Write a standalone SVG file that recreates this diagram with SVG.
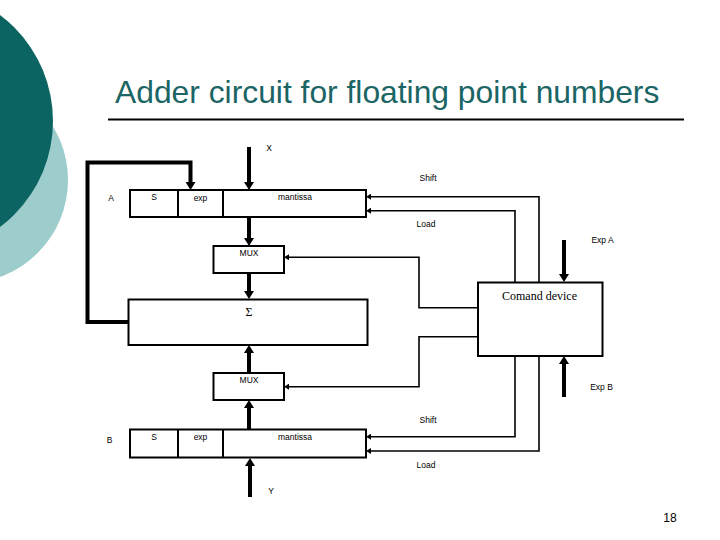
<svg xmlns="http://www.w3.org/2000/svg" width="720" height="540" viewBox="0 0 720 540">
<style>
.box{fill:#fff;stroke:#000;stroke-width:2}
.div{stroke:#000;stroke-width:2}
.thick{fill:none;stroke:#000;stroke-width:4;stroke-linejoin:miter}
.thin{fill:none;stroke:#000;stroke-width:1.6}
.lbl{font-family:"Liberation Sans",Arial,sans-serif;font-size:8.5px;fill:#000}
.mid{text-anchor:middle}
.serif{font-family:"Liberation Serif","Times New Roman",serif;font-size:12px;fill:#000}
.title{font-family:"Liberation Sans",Arial,sans-serif;font-size:31.8px;fill:#1b6565}
</style>
<defs>
<marker id="ah" markerUnits="userSpaceOnUse" viewBox="0 0 8 10" refX="0" refY="5" markerWidth="8" markerHeight="10" orient="auto">
<path d="M0,0 L8,5 L0,10 z" fill="#000"/>
</marker>
<marker id="as" markerUnits="userSpaceOnUse" viewBox="0 0 5 6" refX="0" refY="3" markerWidth="5" markerHeight="6" orient="auto">
<path d="M0,0 L5,3 L0,6 z" fill="#000"/>
</marker>
</defs>
<rect width="720" height="540" fill="#fff"/>
<g id="decor">
<circle cx="-35" cy="180" r="103" fill="#9ccccc"/>
<circle cx="-79.5" cy="121" r="132.5" fill="#0b6462"/>
</g>
<g id="title">
<text class="title" x="115" y="103">Adder circuit for floating point numbers</text>
<line x1="108" y1="119.5" x2="684" y2="119.5" stroke="#000" stroke-width="2"/>
</g>
<g id="connectors">
<path class="thick" d="M128,322 H87.5 V162.5 H190.5 V182" marker-end="url(#ah)"/>
<line class="thick" x1="249" y1="147" x2="249" y2="182" marker-end="url(#ah)"/>
<line class="thick" x1="249" y1="217" x2="249" y2="238" marker-end="url(#ah)"/>
<line class="thick" x1="249" y1="273" x2="249" y2="291" marker-end="url(#ah)"/>
<line class="thick" x1="249" y1="373" x2="249" y2="353" marker-end="url(#ah)"/>
<line class="thick" x1="249" y1="429" x2="249" y2="408" marker-end="url(#ah)"/>
<line class="thick" x1="250" y1="497" x2="250" y2="466" marker-end="url(#ah)"/>
<line class="thick" x1="564" y1="240" x2="564" y2="274" marker-end="url(#ah)"/>
<line class="thick" x1="564" y1="397" x2="564" y2="364" marker-end="url(#ah)"/>
<path class="thin" d="M539,282 V196.7 H371" marker-end="url(#as)"/>
<path class="thin" d="M515,282 V210.7 H371" marker-end="url(#as)"/>
<path class="thin" d="M515,356 V436.7 H371" marker-end="url(#as)"/>
<path class="thin" d="M539,356 V451 H371" marker-end="url(#as)"/>
<path class="thin" d="M478,307.7 H419 V257.3 H289" marker-end="url(#as)"/>
<path class="thin" d="M478,336.7 H419 V386.7 H289" marker-end="url(#as)"/>
</g>
<g id="regA">
<rect class="box" x="130" y="190" width="236" height="27"/>
<line class="div" x1="178" y1="190" x2="178" y2="217"/>
<line class="div" x1="223" y1="190" x2="223" y2="217"/>
<text class="lbl mid" x="154" y="200">S</text>
<text class="lbl mid" x="200.5" y="200.5">exp</text>
<text class="lbl mid" x="295" y="200">mantissa</text>
</g>
<g id="mux1">
<rect class="box" x="213.5" y="246" width="70.5" height="27"/>
<text class="lbl mid" x="249" y="255.5">MUX</text>
</g>
<g id="sum">
<rect class="box" x="128.5" y="299.5" width="239" height="45.5"/>
<text class="serif mid" x="249" y="316">Σ</text>
</g>
<g id="mux2">
<rect class="box" x="213.5" y="373" width="70.5" height="27"/>
<text class="lbl mid" x="249" y="382.5">MUX</text>
</g>
<g id="regB">
<rect class="box" x="130" y="429.5" width="236" height="28"/>
<line class="div" x1="178" y1="429.5" x2="178" y2="457.5"/>
<line class="div" x1="223" y1="429.5" x2="223" y2="457.5"/>
<text class="lbl mid" x="154" y="439.5">S</text>
<text class="lbl mid" x="200.5" y="440">exp</text>
<text class="lbl mid" x="295" y="440">mantissa</text>
</g>
<g id="cmd">
<rect class="box" x="478" y="282.5" width="124.5" height="73.5"/>
<text class="serif mid" x="539.5" y="300">Comand device</text>
</g>
<g id="labels">
<text class="lbl mid" x="111" y="201">A</text>
<text class="lbl mid" x="109.5" y="442.5">B</text>
<text class="lbl mid" x="269" y="151">X</text>
<text class="lbl mid" x="271" y="494">Y</text>
<text class="lbl mid" x="428" y="181">Shift</text>
<text class="lbl mid" x="426" y="226.5">Load</text>
<text class="lbl mid" x="428" y="423">Shift</text>
<text class="lbl mid" x="426" y="467.5">Load</text>
<text class="lbl mid" x="602.5" y="243">Exp A</text>
<text class="lbl mid" x="601.5" y="389.5">Exp B</text>
<text x="670" y="522" text-anchor="middle" font-family="Liberation Sans, Arial, sans-serif" font-size="12" fill="#000">18</text>
</g>
</svg>
